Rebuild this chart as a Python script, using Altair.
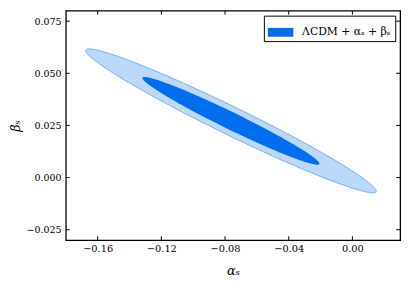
import altair as alt
import numpy as np
import pandas as pd

# Gaussian approximation of the posterior in (alpha_s, beta_s)
mean_alpha = -0.0763
mean_beta = 0.0272
sigma_alpha = 0.0367
sigma_beta = 0.01388
corr = -0.976
# 2D 68% and 95% contour radii (sqrt of chi2 quantiles, 2 dof)
levels = [1.515, 2.486]
level_names = ["68", "95"]

x_ticks = [-0.16, -0.12, -0.08, -0.04, 0.00]
y_ticks = [-0.025, 0.000, 0.025, 0.050, 0.075]
x_domain = [-0.18, 0.03]
y_domain = [-0.03, 0.08]
label = "ΛCDM + αₛ + βₛ"

W, H = 341, 234
FONT = "DejaVu Serif"

band_rows = []
outline_rows = []
s = np.sqrt(1 - corr ** 2)
for k, name in zip(levels, level_names):
    t = np.linspace(0, np.pi, 181)
    c = -np.cos(t)
    x = mean_alpha + k * sigma_alpha * c
    half = s * np.sqrt(np.clip(1 - c ** 2, 0, None))
    yu = mean_beta + k * sigma_beta * (corr * c + half)
    yl = mean_beta + k * sigma_beta * (corr * c - half)
    for xi, a, b in zip(x, yu, yl):
        band_rows.append({"level": name, "x": xi, "y": a, "y2": b, "label": label})
    tt = np.linspace(0, 2 * np.pi, 361)
    xo = mean_alpha + k * sigma_alpha * np.cos(tt)
    yo = mean_beta + k * sigma_beta * (corr * np.cos(tt) + s * np.sin(tt))
    for i, (a, b) in enumerate(zip(xo, yo)):
        outline_rows.append({"level": name, "x": a, "y": b, "i": i})

bands = pd.DataFrame(band_rows)
outlines = pd.DataFrame(outline_rows)

xs = alt.Scale(domain=x_domain, nice=False, zero=False)
ys = alt.Scale(domain=y_domain, nice=False, zero=False)

xaxis = alt.Axis(values=x_ticks, format=".2f", title="αₛ", labelFont=FONT, labelFontSize=10,
                 labelPadding=4, titleFont=FONT, titleFontSize=13, titleFontStyle="italic",
                 titleFontWeight="normal", titlePadding=11, labelColor="#000", titleColor="#000")
yaxis = alt.Axis(values=y_ticks, format=".3f", title="βₛ", labelFont=FONT, labelFontSize=9.6,
                 labelPadding=5, titleFont=FONT, titleFontSize=13, titleFontStyle="italic",
                 titleFontWeight="normal", titlePadding=4, labelColor="#000", titleColor="#000")

outer = alt.Chart(bands[bands.level == "95"]).mark_area(color="#BCD8F8", opacity=1).encode(
    x=alt.X("x:Q", scale=xs, axis=xaxis),
    y=alt.Y("y:Q", scale=ys, axis=yaxis),
    y2="y2:Q",
)
outer_line = alt.Chart(outlines[outlines.level == "95"]).mark_line(color="#6AAEF5", strokeWidth=1).encode(
    x=alt.X("x:Q", scale=xs), y=alt.Y("y:Q", scale=ys), order="i:Q"
)
inner = alt.Chart(bands[bands.level == "68"]).mark_area(opacity=1).encode(
    x=alt.X("x:Q", scale=xs),
    y=alt.Y("y:Q", scale=ys),
    y2="y2:Q",
    color=alt.Color("label:N", scale=alt.Scale(range=["#006FED"]),
                    legend=alt.Legend(title=None, orient="top-right", offset=5,
                                      symbolType="M-1,-0.346H1V0.346H-1Z", symbolSize=676,
                                      symbolStrokeWidth=0, symbolOpacity=1,
                                      labelFont=FONT, labelFontSize=11, labelColor="#000",
                                      labelOffset=9, strokeColor="#000", fillColor="#fff",
                                      padding=4)),
)

xt = pd.DataFrame({"v": x_ticks})
yt = pd.DataFrame({"v": y_ticks})
tick_style = dict(color="#000", strokeWidth=1)
bottom_t = alt.Chart(xt).mark_rule(**tick_style).encode(
    x=alt.X("v:Q", scale=xs), y=alt.value(H), y2=alt.value(H - 4))
top_t = alt.Chart(xt).mark_rule(**tick_style).encode(
    x=alt.X("v:Q", scale=xs), y=alt.value(0), y2=alt.value(4))
left_t = alt.Chart(yt).mark_rule(**tick_style).encode(
    y=alt.Y("v:Q", scale=ys), x=alt.value(0), x2=alt.value(4))
right_t = alt.Chart(yt).mark_rule(**tick_style).encode(
    y=alt.Y("v:Q", scale=ys), x=alt.value(W), x2=alt.value(W - 4))

chart = alt.layer(outer, outer_line, inner, bottom_t, top_t, left_t, right_t).properties(
    width=W, height=H,
    autosize=alt.AutoSizeParams(type="none"),
    padding={"left": 59, "top": 0, "right": 8, "bottom": 45},
).configure_axis(
    domain=False, ticks=False, grid=False
).configure_view(
    stroke="#000", strokeWidth=1.3
)

chart.save("out.html", embed_options={"renderer": "svg", "actions": False})
